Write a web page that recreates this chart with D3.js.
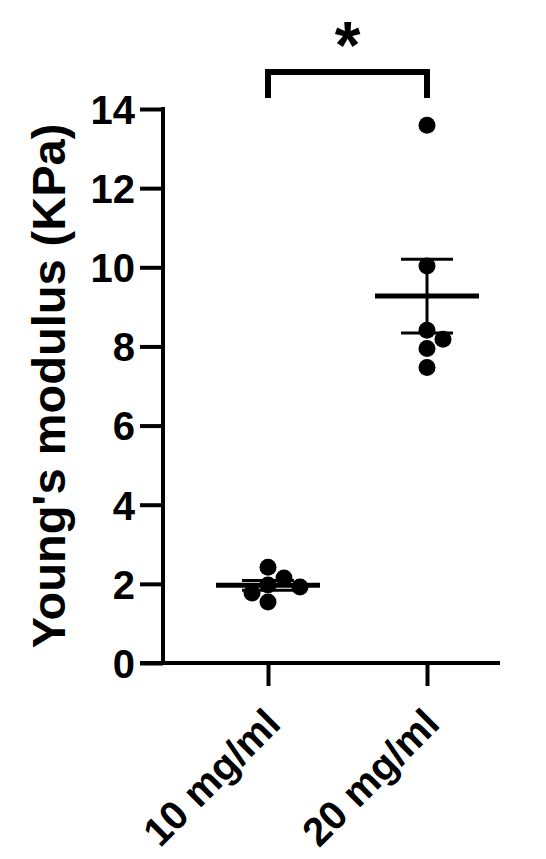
<!DOCTYPE html>
<html>
<head>
<meta charset="utf-8">
<script src="https://cdn.jsdelivr.net/npm/d3@7"></script>
<style>
  body { margin: 0; background: #fff; }
  text { font-family: 'Liberation Sans', Arial, sans-serif; font-weight: bold; fill: #000; }
</style>
</head>
<body>
<div id="chart"></div>
<script>
// values (KPa)
const categories = ['10 mg/ml', '20 mg/ml'];
const values10 = [2.42, 2.15, 1.97, 1.92, 1.77, 1.54];
const values20 = [13.59, 10.03, 8.41, 8.18, 7.95, 7.47];
const yTicks = [0, 2, 4, 6, 8, 10, 12, 14];
const yLabel = "Young's modulus (KPa)";
const sigLabel = '*';

const groups = [values10, values20];

const width = 546;
const height = 859;
const axisX = 163;
const axisY = 663;

const svg = d3.select('#chart').append('svg')
  .attr('width', width)
  .attr('height', height);

const y = d3.scaleLinear()
  .domain([0, 14])
  .range([axisY, 109]);

const x = d3.scalePoint()
  .domain(categories)
  .range([268, 427]);

const r = 8.5;

// simple dodge so points that would overlap get pushed sideways
const dodge = (vals) => {
  const placed = [];
  const step = 16;
  const minDist = 17;
  vals.slice().sort((a, b) => b - a).forEach((v) => {
    const py = y(v);
    for (let k = 0; k < 20; k += 1) {
      const off = k === 0 ? 0 : Math.ceil(k / 2) * step * (k % 2 ? 1 : -1);
      const ok = placed.every((p) => Math.hypot(p.off - off, p.py - py) >= minDist);
      if (ok) {
        placed.push({ v, py, off });
        break;
      }
    }
  });
  return placed;
};

// y axis
const yAxis = svg.append('g')
  .attr('transform', `translate(${axisX},0)`)
  .call(d3.axisLeft(y).tickValues(yTicks).tickSize(23).tickSizeOuter(0).tickPadding(5));
yAxis.select('.domain').remove();
yAxis.selectAll('line').attr('stroke', '#000').attr('stroke-width', 4);
yAxis.selectAll('text')
  .style('font-size', '40px')
  .attr('dy', '0.36em');
yAxis.append('line')
  .attr('x1', 0).attr('x2', 0)
  .attr('y1', y(14) - 2).attr('y2', axisY)
  .attr('stroke', '#000').attr('stroke-width', 4);

// x axis
const xAxis = svg.append('g')
  .attr('transform', `translate(0,${axisY})`)
  .call(d3.axisBottom(x).tickSize(23).tickSizeOuter(0));
xAxis.select('.domain').remove();
xAxis.selectAll('line').attr('stroke', '#000').attr('stroke-width', 4);
xAxis.selectAll('text')
  .style('font-size', '40px')
  .attr('text-anchor', 'end')
  .attr('y', 0)
  .attr('dy', 0)
  .attr('transform', 'translate(14,63) rotate(-45)');
xAxis.append('line')
  .attr('x1', 140).attr('x2', 500)
  .attr('y1', 0).attr('y2', 0)
  .attr('stroke', '#000').attr('stroke-width', 4);

// axis title
svg.append('text')
  .attr('transform', `translate(65,${(y(0) + y(14)) / 2}) rotate(-90)`)
  .attr('text-anchor', 'middle')
  .style('font-size', '47px')
  .text(yLabel);

// mean +- SEM and points
groups.forEach((vals, i) => {
  const cx = x(categories[i]);
  const mean = d3.mean(vals);
  const sem = d3.deviation(vals) / Math.sqrt(vals.length);
  const g = svg.append('g');

  g.append('line')
    .attr('x1', cx).attr('x2', cx)
    .attr('y1', y(mean + sem)).attr('y2', y(mean - sem))
    .attr('stroke', '#000').attr('stroke-width', 3);
  [mean + sem, mean - sem].forEach((v) => {
    g.append('line')
      .attr('x1', cx - 26).attr('x2', cx + 26)
      .attr('y1', y(v)).attr('y2', y(v))
      .attr('stroke', '#000').attr('stroke-width', 3);
  });
  g.append('line')
    .attr('x1', cx - 52).attr('x2', cx + 52)
    .attr('y1', y(mean)).attr('y2', y(mean))
    .attr('stroke', '#000').attr('stroke-width', 5);

  g.selectAll('circle')
    .data(dodge(vals))
    .enter().append('circle')
    .attr('cx', (d) => cx + d.off)
    .attr('cy', (d) => d.py)
    .attr('r', r)
    .attr('fill', '#000');
});

// significance bracket
const x1 = x(categories[0]);
const x2 = x(categories[1]);
const by = 72;
svg.append('path')
  .attr('d', `M${x1},${by + 26} V${by} H${x2} V${by + 26}`)
  .attr('fill', 'none')
  .attr('stroke', '#000')
  .attr('stroke-width', 6);
svg.append('text')
  .attr('x', (x1 + x2) / 2)
  .attr('y', 68)
  .attr('text-anchor', 'middle')
  .style('font-size', '66px')
  .text(sigLabel);
</script>
</body>
</html>
